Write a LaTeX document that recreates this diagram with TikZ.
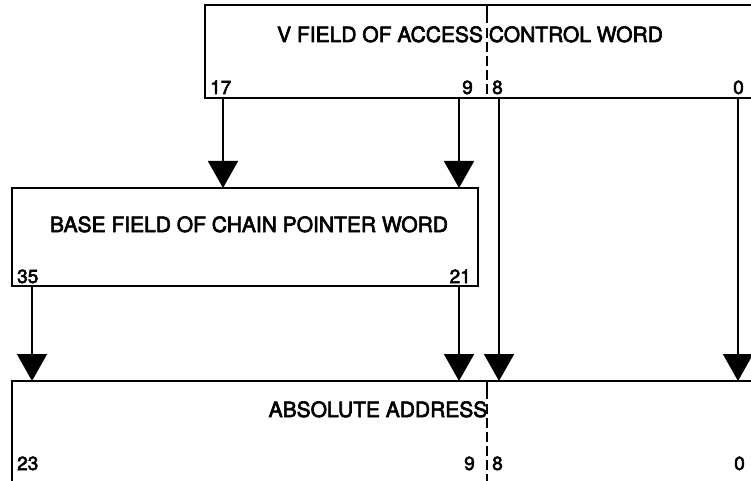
\documentclass[tikz,border=0pt]{standalone}
\usepackage{fontspec}
\setmainfont{TeX Gyre Heros}
\newfontfamily\heavysans{TeX Gyre Heros}[FakeBold=3]
\usetikzlibrary{arrows.meta}
\begin{document}
\begin{tikzpicture}[x=1pt,y=-1pt,
  field/.style={draw, line width=1.8pt, inner sep=0pt, outer sep=0pt, rectangle, anchor=north west},
  title/.style={font=\heavysans\fontsize{21}{25}\selectfont, inner sep=0pt, anchor=base},
  bitno/.style={font=\heavysans\fontsize{19}{22}\selectfont, inner sep=0pt},
  feed/.style={line width=1.8pt, -{Triangle[width=30pt,length=27pt]}},
  split/.style={line width=1.8pt, dash pattern=on 18pt off 5pt on 10pt off 4pt on 10pt off 4pt on 10pt off 4pt on 10pt off 4pt on 10pt off 4pt on 10pt off 4pt on 10pt off 4pt}]
\useasboundingbox (0,0) rectangle (751,481);
\clip (0,0) rectangle (751,481);

% register boxes
\node[field, minimum width=560pt, minimum height=93pt] (vcw) at (205,5) {};
\node[field, minimum width=466pt, minimum height=98pt] (cpw) at (12,188) {};
\node[field, minimum width=760pt, minimum height=110pt] (abs) at (12,381) {};

% bit columns
\coordinate (c17) at (223,0);
\coordinate (c9)  at (459,0);
\coordinate (c8)  at (499,0);
\coordinate (c0)  at (738,0);
\coordinate (c35) at (32,0);
\coordinate (c21) at (459,0);
\coordinate (cdiv) at (487,0);

% titles
\node[title] (vcwt) at (470,42) {V FIELD OF ACCESS CONTROL WORD};
\node[title] (cpwt) at (249,232) {BASE FIELD OF CHAIN POINTER WORD};
\node[title] (abst) at (378,417) {ABSOLUTE ADDRESS};

% bit numbers
\node[bitno, anchor=base west] (n17) at (210,94) {17};
\node[bitno, anchor=base east] (n9a) at (473,94) {9};
\node[bitno, anchor=base west] (n8a) at (492,94) {8};
\node[bitno, anchor=base east] (n0a) at (744,94) {0};
\node[bitno, anchor=base west] (n35) at (17,283) {35};
\node[bitno, anchor=base east] (n21) at (471,283) {21};
\node[bitno, anchor=base west] (n23) at (17,470) {23};
\node[bitno, anchor=base east] (n9b) at (475,470) {9};
\node[bitno, anchor=base west] (n8b) at (492,470) {8};
\node[bitno, anchor=base east] (n0b) at (745,470) {0};

% field split at bit 9/8
\draw[split] (vcw.north -| cdiv) -- (vcw.south -| cdiv);
\draw[split] (abs.north -| cdiv) -- (abs.south -| cdiv);

% data paths
\draw[feed] (vcw.south -| c17) -- (cpw.north -| c17);
\draw[feed] (vcw.south -| c9)  -- (cpw.north -| c9);
\draw[feed] (vcw.south -| c8)  -- (abs.north -| c8);
\draw[feed] (vcw.south -| c0)  -- (abs.north -| c0);
\draw[feed] (cpw.south -| c35) -- (abs.north -| c35);
\draw[feed] (cpw.south -| c21) -- (abs.north -| c21);
\end{tikzpicture}
\end{document}
